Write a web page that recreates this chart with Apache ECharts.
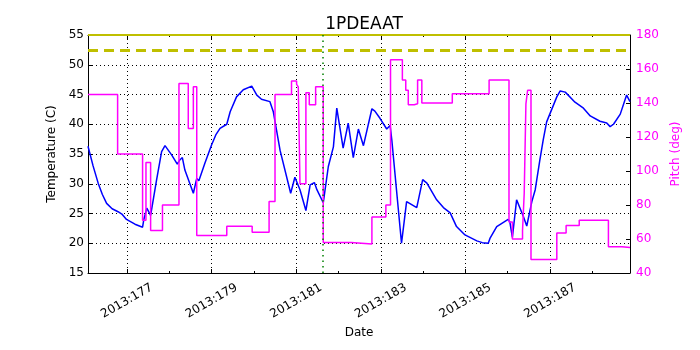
<!DOCTYPE html>
<html>
<head>
<meta charset="utf-8">
<script src="https://cdn.jsdelivr.net/npm/echarts@6/dist/echarts.min.js"></script>
<style>
  html, body { margin: 0; padding: 0; background: #fff; }
  #chart { width: 700px; height: 350px; }
</style>
</head>
<body>
<div id="chart"></div>
<script>
// day of year 2013 (fractional) for the temperature trace
const tempDays = [176.08, 176.2, 176.32, 176.42, 176.52, 176.65, 176.79, 176.88, 176.99, 177.19, 177.37,
  177.4, 177.47, 177.56, 177.7, 177.82, 177.9, 178.06, 178.19, 178.25, 178.31, 178.37, 178.57, 178.65,
  178.7, 178.84, 179.0, 179.1, 179.2, 179.36, 179.44, 179.59, 179.75, 179.95, 180.07, 180.18, 180.38,
  180.46, 180.62, 180.87, 180.97, 181.09, 181.23, 181.33, 181.43, 181.49, 181.64, 181.76, 181.88,
  181.96, 182.11, 182.23, 182.35, 182.47, 182.59, 182.79, 182.86, 182.98, 183.14, 183.22, 183.26,
  183.49, 183.61, 183.85, 183.99, 184.09, 184.32, 184.48, 184.64, 184.68, 184.79, 184.99, 185.27,
  185.4, 185.54, 185.58, 185.74, 186.01, 186.05, 186.11, 186.21, 186.37, 186.45, 186.49, 186.57,
  186.65, 186.76, 186.84, 186.92, 187.16, 187.24, 187.36, 187.59, 187.79, 187.95, 188.18, 188.34,
  188.42, 188.5, 188.66, 188.81, 188.89];
const temps = [36.3, 33.0, 30.1, 28.2, 26.7, 25.8, 25.3, 24.9, 24.0, 23.2, 22.7,
  24.0, 25.9, 24.7, 30.6, 35.4, 36.4, 34.8, 33.3, 34.0, 34.4, 32.3, 28.4, 30.9,
  30.5, 33.4, 36.5, 38.2, 39.3, 40.0, 42.1, 44.6, 45.8, 46.4, 44.9, 44.2, 43.8,
  42.1, 35.6, 28.4, 31.1, 29.0, 25.5, 29.8, 30.2, 29.0, 26.8, 32.9, 36.2,
  42.7, 36.0, 40.2, 34.4, 39.2, 36.4, 42.6, 42.2, 41.0, 39.2, 39.8, 37.4,
  20.0, 27.0, 26.0, 30.7, 30.1, 27.3, 26.0, 25.1, 24.9, 22.8, 21.4, 20.4,
  20.1, 20.0, 20.8, 22.8, 24.0, 23.6, 21.0, 27.3, 24.5, 22.9, 22.8, 27.0,
  29.0, 34.0, 37.4, 40.4, 44.6, 45.6, 45.4, 43.7, 42.7, 41.4, 40.5, 40.2,
  39.6, 40.0, 41.7, 44.9, 43.8];

// pitch steps: each value holds from its day until the next one
const pitchDays = [176.08, 176.78, 177.37, 177.45, 177.56, 177.84, 178.23, 178.45, 178.57, 178.65,
  179.36, 179.96, 180.36, 180.5, 180.89, 181.01, 181.05, 181.09, 181.23, 181.31, 181.46, 181.64,
  182.3, 182.79, 183.12, 183.23, 183.51, 183.59, 183.65, 183.79, 183.87, 183.97, 184.69, 185.56,
  186.03, 186.11, 186.35, 186.39, 186.43, 186.47, 186.55, 187.16, 187.38, 187.69, 188.38, 188.7, 188.89];
const pitch = [145, 110, 71, 105, 65, 80, 151.5, 125, 149.5, 62,
  67.5, 64, 82, 145, 153, 151, 149.5, 92.5, 146, 139, 149.5, 58,
  57, 73, 80, 165.5, 153.5, 147.5, 139, 139.5, 153.5, 140, 145.5, 153.5,
  70, 60, 65, 87, 139.5, 147.5, 48, 63.5, 68, 71, 55.5, 55, 55];

const majorDays = [177, 179, 181, 183, 185, 187];
const minorDays = [178, 180, 182, 184, 186, 188];
const limitTemp = 52.5;
const topLimit = 55;
const nowDay = 181.64;

const xMin = 176.08, xMax = 188.89;
const font = 'DejaVu Sans';

function xAxisOf(position, ticks, len, labels) {
  return {
    type: 'value', position: position, min: xMin, max: xMax,
    axisLine: { show: labels !== null, lineStyle: { color: '#000', width: 1 } },
    axisTick: { show: true, inside: true, length: len, customValues: ticks, lineStyle: { color: '#000' } },
    axisLabel: labels ? {
      show: true, customValues: ticks, rotate: 30, align: 'center', verticalAlign: 'middle',
      margin: 28, color: '#000', fontSize: 12, fontFamily: font,
      formatter: v => '2013:' + v
    } : { show: false },
    splitLine: { show: false }
  };
}

const chart = echarts.init(document.getElementById('chart'));

const bottomMajor = xAxisOf('bottom', majorDays, 4, {});
bottomMajor.name = 'Date';
bottomMajor.nameLocation = 'middle';
bottomMajor.nameGap = 53;
bottomMajor.nameTextStyle = { fontSize: 12, fontFamily: font, color: '#000' };
bottomMajor.splitLine = { show: true, lineStyle: { color: '#000', width: 1, type: [1, 3] } };

const topMajor = xAxisOf('top', majorDays, 4, null);
topMajor.axisLine = { show: true, lineStyle: { color: '#000', width: 1 } };

chart.setOption({
  animation: false,
  textStyle: { fontFamily: font },
  title: {
    text: '1PDEAAT', left: 359, top: 11, textAlign: 'center',
    textStyle: { fontSize: 17, fontWeight: 'normal', color: '#000', fontFamily: font }
  },
  grid: { left: 88, right: 70, top: 35, bottom: 77, containLabel: false },
  xAxis: [
    bottomMajor,
    xAxisOf('bottom', minorDays, 2, null),
    topMajor,
    xAxisOf('top', minorDays, 2, null)
  ],
  yAxis: [
    {
      type: 'value', min: 15, max: 55, interval: 5, position: 'left',
      name: 'Temperature (C)', nameLocation: 'middle', nameGap: 30,
      nameTextStyle: { fontSize: 12, color: '#000', fontFamily: font },
      axisLine: { show: true, lineStyle: { color: '#000' } },
      axisTick: { inside: true, length: 4, lineStyle: { color: '#000' } },
      axisLabel: { color: '#000', fontSize: 12, margin: 4, fontFamily: font },
      splitLine: { show: true, lineStyle: { color: '#000', width: 1, type: [1, 3] } }
    },
    {
      type: 'value', min: 40, max: 180, interval: 20, position: 'right',
      name: 'Pitch (deg)', nameLocation: 'middle', nameGap: 35,
      nameRotate: 90,
      nameTextStyle: { fontSize: 12, color: '#ff00ff', fontFamily: font },
      axisLine: { show: true, lineStyle: { color: '#000' } },
      axisTick: { inside: true, length: 4, lineStyle: { color: '#000' } },
      axisLabel: { color: '#ff00ff', fontSize: 12, margin: 6, fontFamily: font },
      splitLine: { show: false }
    }
  ],
  series: [
    {
      name: 'Temperature', type: 'line', xAxisIndex: 0, yAxisIndex: 0,
      data: tempDays.map((d, i) => [d, temps[i]]),
      showSymbol: false, lineStyle: { color: '#0000ff', width: 1.5 }, z: 3,
      markLine: {
        silent: true, symbol: 'none', label: { show: false },
        data: [
          { yAxis: limitTemp, lineStyle: { color: '#bfbf00', width: 3, type: [10, 6] } },
          { yAxis: topLimit, lineStyle: { color: '#bfbf00', width: 2, type: 'solid' } },
          { xAxis: nowDay, lineStyle: { color: '#008000', width: 1.5, type: [1.5, 4] } }
        ]
      }
    },
    {
      name: 'Pitch', type: 'line', xAxisIndex: 0, yAxisIndex: 1, step: 'end',
      data: pitchDays.map((d, i) => [d, pitch[i]]),
      showSymbol: false, lineStyle: { color: '#ff00ff', width: 1.5 }, z: 4
    }
  ]
});
</script>
</body>
</html>
